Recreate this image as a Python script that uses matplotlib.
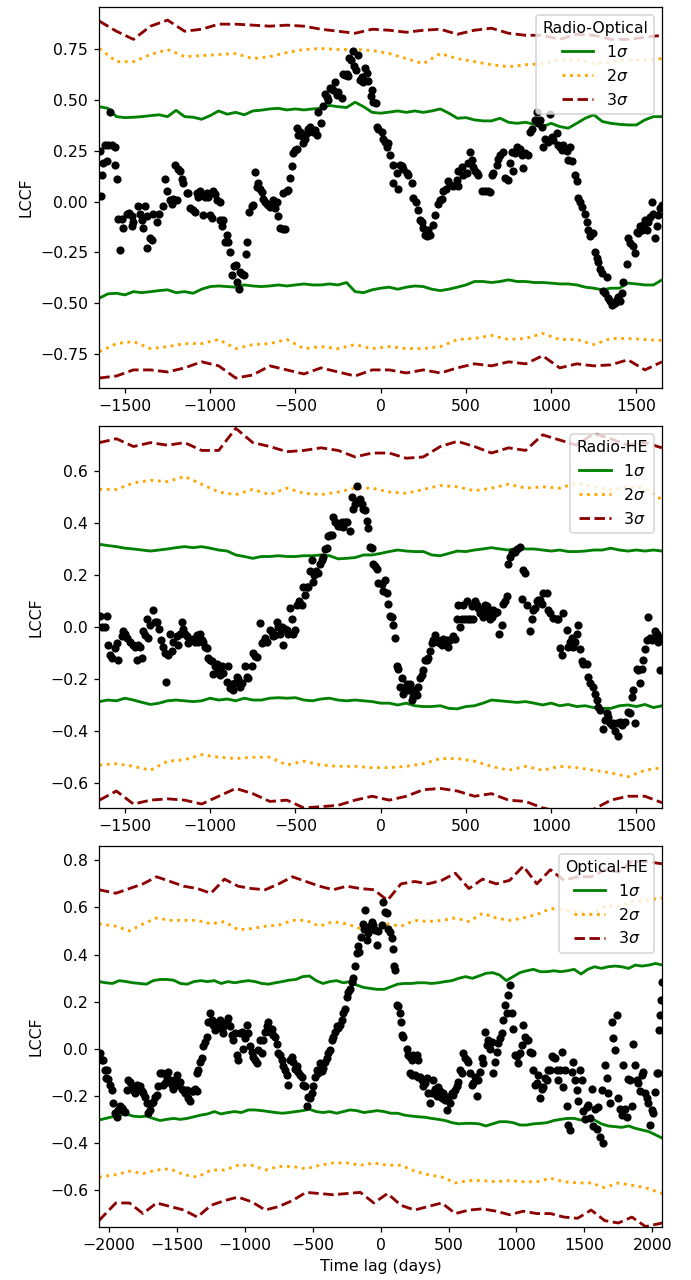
import numpy as np
import matplotlib
matplotlib.use("Agg")
import matplotlib.pyplot as plt

# lag grids for the significance curves
fine_lag_short = list(range(-1650, 1651, 50))
fine_lag_long = list(range(-2075, 2076, 50))
sig_lag_short = list(range(-1650, 1651, 100))
sig_lag_long = [-2075] + list(range(-1950, 1951, 100)) + [2075]

# ---------------- Radio-Optical ----------------
ro_points = [
    (-1645, 0.25), (-1640, 0.03), (-1637, 0.13), (-1627, 0.19), (-1617, 0.28), (-1607, 0.20),
    (-1598, 0.28), (-1588, 0.44), (-1578, 0.28), (-1559, 0.27), (-1559, 0.18), (-1549, 0.11),
    (-1539, -0.085), (-1529, -0.24), (-1519, -0.085), (-1510, -0.13), (-1490, -0.06), (-1474, -0.055),
    (-1461, -0.07), (-1461, -0.12), (-1451, -0.10), (-1422, -0.02), (-1412, -0.06), (-1402, -0.09),
    (-1392, -0.13), (-1383, -0.02), (-1373, -0.23), (-1373, -0.07), (-1353, -0.18), (-1343, -0.19),
    (-1334, -0.06), (-1314, -0.10), (-1298, -0.06), (-1275, -0.02), (-1265, 0.11), (-1256, 0.05),
    (-1236, 0.01), (-1226, -0.01), (-1216, 0.015), (-1207, 0.18), (-1197, 0.01), (-1187, 0.16),
    (-1177, 0.15), (-1168, 0.11), (-1158, 0.09), (-1138, 0.04), (-1128, 0.04), (-1119, -0.03),
    (-1103, -0.04), (-1089, -0.05), (-1080, 0.04), (-1070, 0.025), (-1060, 0.05), (-1040, -0.065),
    (-1031, 0.025), (-1021, 0.04), (-1011, 0.025), (-1001, -0.065), (-992, -0.08), (-982, 0.05),
    (-972, 0.035), (-962, 0.01), (-943, 0.0), (-943, -0.09), (-933, -0.12), (-923, -0.09),
    (-913, -0.20), (-904, -0.165), (-894, -0.20), (-884, -0.25), (-870, -0.36), (-861, -0.32),
    (-849, -0.315), (-841, -0.395), (-829, -0.43), (-825, -0.345), (-816, -0.355), (-802, -0.36),
    (-790, -0.26), (-782, -0.20), (-771, -0.05), (-757, -0.02), (-747, -0.015), (-737, 0.145),
    (-728, 0.07), (-718, 0.09), (-708, 0.06), (-698, 0.045), (-689, 0.015), (-679, 0.0),
    (-669, -0.01), (-659, -0.015), (-650, -0.025), (-640, -0.01), (-630, 0.01), (-620, -0.03),
    (-610, 0.0), (-601, -0.07), (-591, -0.13), (-575, -0.135), (-571, 0.04), (-561, -0.135),
    (-552, 0.05), (-542, 0.055), (-532, 0.115), (-522, 0.175), (-513, 0.24), (-503, 0.255),
    (-493, 0.26), (-493, 0.365), (-483, 0.33), (-473, 0.345), (-464, 0.325), (-454, 0.29),
    (-444, 0.31), (-434, 0.34), (-425, 0.36), (-415, 0.37), (-405, 0.35), (-395, 0.345),
    (-386, 0.355), (-376, 0.33), (-366, 0.44), (-352, 0.39), (-341, 0.47), (-327, 0.53),
    (-317, 0.515), (-307, 0.50), (-298, 0.56), (-288, 0.555), (-278, 0.55), (-268, 0.59),
    (-259, 0.525), (-249, 0.54), (-229, 0.51), (-219, 0.63), (-210, 0.625), (-200, 0.63),
    (-190, 0.62), (-184, 0.71), (-176, 0.70), (-165, 0.745), (-157, 0.67), (-145, 0.65),
    (-131, 0.725), (-122, 0.60), (-112, 0.615), (-102, 0.59), (-92, 0.66), (-83, 0.635),
    (-73, 0.595), (-59, 0.52), (-53, 0.55), (-43, 0.49), (-28, 0.485), (-24, 0.37), (-14, 0.36),
    (6, 0.345), (16, 0.31), (25, 0.295), (35, 0.27), (45, 0.29), (55, 0.23), (70, 0.18),
    (74, 0.09), (94, 0.14), (104, 0.06), (113, 0.18), (123, 0.175), (133, 0.16), (152, 0.14),
    (162, 0.13), (182, 0.09), (192, 0.02), (207, 0.0), (221, -0.04), (231, -0.09), (240, -0.10),
    (250, -0.13), (260, -0.165), (270, -0.17), (280, -0.14), (289, -0.165), (309, -0.115),
    (319, -0.065), (338, -0.01), (348, 0.01), (358, 0.015), (368, 0.05), (383, 0.06),
    (397, 0.10), (407, 0.08), (426, 0.075), (446, 0.105), (456, 0.075), (456, 0.15),
    (475, 0.17), (485, 0.13), (504, 0.14), (514, 0.19), (524, 0.245), (534, 0.205),
    (543, 0.17), (553, 0.15), (563, 0.14), (573, 0.13), (592, 0.05), (612, 0.05), (631, 0.05),
    (641, 0.045), (651, 0.13), (661, 0.14), (680, 0.18), (690, 0.21), (700, 0.23), (719, 0.245),
    (729, 0.115), (749, 0.105), (758, 0.19), (768, 0.245), (778, 0.15), (788, 0.24),
    (798, 0.27), (817, 0.26), (827, 0.23), (837, 0.165), (846, 0.24), (866, 0.23),
    (876, 0.345), (886, 0.36), (905, 0.40), (915, 0.44), (925, 0.39), (934, 0.40),
    (944, 0.37), (954, 0.27), (964, 0.31), (983, 0.295), (993, 0.43), (1003, 0.32),
    (1013, 0.305), (1032, 0.34), (1042, 0.28), (1052, 0.27), (1062, 0.255), (1071, 0.28),
    (1091, 0.25), (1101, 0.205), (1110, 0.27), (1120, 0.20), (1140, 0.13), (1150, 0.10),
    (1159, 0.02), (1169, 0.0), (1179, -0.025), (1198, -0.06), (1208, -0.10), (1218, -0.14),
    (1228, -0.17), (1247, -0.155), (1257, -0.25), (1267, -0.28), (1277, -0.30), (1286, -0.33),
    (1296, -0.35), (1306, -0.44), (1316, -0.45), (1326, -0.37), (1335, -0.475), (1345, -0.49),
    (1355, -0.51), (1365, -0.505), (1374, -0.50), (1384, -0.485), (1394, -0.47), (1404, -0.49),
    (1413, -0.45), (1423, -0.395), (1443, -0.31), (1453, -0.18), (1462, -0.205), (1482, -0.22),
    (1492, -0.255), (1501, -0.15), (1511, -0.155), (1521, -0.12), (1531, -0.14), (1541, -0.115),
    (1550, -0.09), (1560, -0.14), (1570, -0.10), (1580, -0.075), (1589, 0.0), (1599, -0.06),
    (1609, -0.18), (1619, -0.12), (1628, -0.065), (1638, -0.03), (1648, -0.015),
]
ro_1s_hi = [0.468, 0.46, 0.419, 0.414, 0.416, 0.419, 0.424, 0.428, 0.419, 0.45, 0.419, 0.416, 0.406, 0.424,
            0.447, 0.431, 0.44, 0.428, 0.447, 0.451, 0.457, 0.46, 0.452, 0.457, 0.452, 0.457, 0.46, 0.474,
            0.468, 0.464, 0.49, 0.468, 0.44,
            0.436, 0.441, 0.447, 0.44, 0.447, 0.44, 0.447, 0.457, 0.436, 0.411, 0.414, 0.403, 0.398, 0.398,
            0.411, 0.391, 0.386, 0.391, 0.381, 0.37, 0.386, 0.37, 0.362, 0.386, 0.411, 0.428, 0.395, 0.386,
            0.381, 0.378, 0.378, 0.403, 0.419, 0.419]
ro_1s_lo = [-0.476, -0.455, -0.452, -0.46, -0.444, -0.449, -0.444, -0.439, -0.435, -0.449, -0.444, -0.452,
            -0.432, -0.419, -0.416, -0.419, -0.422, -0.411, -0.416, -0.419, -0.416, -0.411, -0.416, -0.411,
            -0.406, -0.411, -0.411, -0.406, -0.411, -0.399, -0.444, -0.449, -0.435,
            -0.427, -0.422, -0.432, -0.422, -0.416, -0.419, -0.432, -0.439, -0.432, -0.422, -0.411, -0.394,
            -0.394, -0.399, -0.394, -0.386, -0.394, -0.394, -0.399, -0.399, -0.402, -0.406, -0.406, -0.411,
            -0.422, -0.427, -0.435, -0.427, -0.427, -0.402, -0.406, -0.411, -0.411, -0.386]
ro_2s_hi = [0.755, 0.69, 0.69, 0.725, 0.75, 0.715, 0.72, 0.725, 0.73, 0.705, 0.715, 0.735, 0.75, 0.755, 0.75, 0.75,
            0.745, 0.73, 0.705, 0.68, 0.73, 0.705, 0.69, 0.675, 0.665, 0.675, 0.68, 0.70, 0.70, 0.68, 0.69, 0.70,
            0.70, 0.705]
ro_2s_lo = [-0.74, -0.70, -0.69, -0.725, -0.715, -0.70, -0.70, -0.68, -0.725, -0.705, -0.70, -0.68, -0.725, -0.715,
            -0.725, -0.705, -0.725, -0.715, -0.725, -0.725, -0.715, -0.68, -0.675, -0.66, -0.68, -0.675, -0.65, -0.68,
            -0.68, -0.705, -0.675, -0.675, -0.68, -0.685]
ro_3s_hi = [0.89, 0.84, 0.80, 0.865, 0.895, 0.84, 0.85, 0.875, 0.875, 0.87, 0.865, 0.87, 0.865, 0.85, 0.84, 0.83,
            0.85, 0.845, 0.835, 0.845, 0.85, 0.825, 0.845, 0.855, 0.83, 0.82, 0.82, 0.80, 0.825, 0.82, 0.80, 0.80,
            0.81, 0.82]
ro_3s_lo = [-0.87, -0.86, -0.83, -0.83, -0.84, -0.82, -0.79, -0.81, -0.87, -0.855, -0.81, -0.83, -0.85, -0.82, -0.84,
            -0.86, -0.83, -0.83, -0.845, -0.83, -0.845, -0.82, -0.80, -0.81, -0.79, -0.80, -0.76, -0.82, -0.80, -0.81,
            -0.805, -0.78, -0.83, -0.79]

# ---------------- Radio-HE ----------------
rh_points = [
    (-1645, 0.045), (-1637, 0.0), (-1617, 0.0), (-1607, 0.045), (-1598, -0.07), (-1588, -0.105),
    (-1578, -0.12), (-1559, -0.08), (-1549, -0.06), (-1539, -0.125), (-1519, -0.035), (-1510, -0.015),
    (-1500, -0.025), (-1490, -0.04), (-1471, -0.055), (-1451, -0.07), (-1441, -0.075), (-1431, -0.125),
    (-1422, -0.07), (-1412, -0.075), (-1402, -0.12), (-1392, -0.015), (-1383, -0.03), (-1373, 0.03),
    (-1363, -0.04), (-1353, 0.01), (-1334, 0.065), (-1324, 0.02), (-1314, 0.02), (-1298, -0.005),
    (-1291, -0.05), (-1275, -0.075), (-1265, -0.10), (-1259, -0.21), (-1246, -0.105), (-1236, -0.025),
    (-1226, -0.09), (-1216, -0.055), (-1197, -0.035), (-1187, -0.07), (-1177, -0.025), (-1168, 0.02),
    (-1158, -0.005), (-1148, -0.025), (-1138, -0.035), (-1128, -0.06), (-1119, -0.05), (-1103, -0.045),
    (-1089, -0.055), (-1080, -0.03), (-1070, -0.055), (-1060, -0.025), (-1050, -0.05), (-1040, -0.055),
    (-1031, -0.075), (-1021, -0.08), (-1011, -0.12), (-1001, -0.125), (-992, -0.13), (-982, -0.18),
    (-972, -0.15), (-962, -0.14), (-953, -0.165), (-943, -0.185), (-933, -0.15), (-923, -0.175),
    (-904, -0.21), (-894, -0.15), (-884, -0.235), (-874, -0.22), (-865, -0.24), (-855, -0.215),
    (-845, -0.19), (-835, -0.20), (-825, -0.23), (-816, -0.215), (-796, -0.15), (-786, -0.19),
    (-777, -0.195), (-757, -0.15), (-747, -0.10), (-737, -0.11), (-728, -0.115), (-708, 0.015),
    (-698, -0.06), (-689, -0.055), (-679, -0.04), (-669, -0.055), (-650, -0.01), (-640, -0.02),
    (-630, -0.035), (-620, -0.03), (-610, 0.02), (-601, 0.0), (-591, -0.025), (-581, 0.0),
    (-571, -0.07), (-561, -0.005), (-552, -0.01), (-542, -0.025), (-532, 0.075), (-522, 0.03),
    (-513, -0.025), (-503, -0.01), (-493, 0.085), (-477, 0.10), (-464, 0.085), (-454, 0.155),
    (-444, 0.125), (-434, 0.155), (-425, 0.155), (-415, 0.215), (-405, 0.26), (-399, 0.175),
    (-391, 0.20), (-380, 0.215), (-366, 0.21), (-356, 0.245), (-346, 0.26), (-337, 0.27),
    (-327, 0.30), (-317, 0.305), (-307, 0.35), (-298, 0.355), (-288, 0.355), (-278, 0.425),
    (-268, 0.405), (-259, 0.40), (-249, 0.39), (-239, 0.39), (-229, 0.405), (-219, 0.385),
    (-210, 0.405), (-200, 0.405), (-180, 0.37), (-171, 0.50), (-161, 0.455), (-151, 0.475),
    (-141, 0.545), (-131, 0.485), (-122, 0.495), (-112, 0.475), (-102, 0.455), (-92, 0.45),
    (-83, 0.41), (-73, 0.38), (-63, 0.31), (-53, 0.305), (-43, 0.245), (-34, 0.235),
    (-24, 0.225), (-14, 0.17),
    (6, 0.165), (16, 0.14), (25, 0.18), (35, 0.13), (45, 0.09), (55, 0.045), (65, 0.04),
    (74, 0.01), (84, -0.04), (94, -0.15), (104, -0.16), (113, -0.23), (123, -0.195), (133, -0.255),
    (143, -0.235), (152, -0.22), (162, -0.24), (172, -0.22), (182, -0.28), (192, -0.265),
    (201, -0.24), (211, -0.26), (221, -0.23), (231, -0.195), (240, -0.185), (250, -0.165),
    (260, -0.125), (270, -0.125), (280, -0.12), (289, -0.09), (299, -0.06), (309, -0.05),
    (319, -0.03), (328, -0.05), (338, -0.055), (348, -0.06), (358, -0.07), (368, -0.045),
    (387, -0.05), (397, -0.075), (407, -0.05), (426, -0.035), (436, -0.045), (446, 0.03),
    (456, 0.085), (465, 0.0), (475, 0.03), (485, 0.085), (495, 0.03), (504, 0.10), (514, 0.03),
    (524, 0.03), (534, 0.08), (543, 0.03), (553, 0.10), (563, 0.085), (573, 0.075), (583, 0.055),
    (592, 0.065), (602, 0.04), (612, 0.085), (622, 0.08), (631, 0.055), (641, 0.03), (651, 0.04),
    (661, 0.065), (671, 0.055), (680, 0.06), (696, -0.025), (710, 0.01), (719, 0.09), (729, 0.10),
    (739, 0.12), (749, 0.245), (758, 0.27), (768, 0.285), (778, 0.29), (788, 0.29), (798, 0.30),
    (817, 0.31), (827, 0.11), (837, 0.22), (846, 0.21), (856, 0.085), (876, -0.015), (886, 0.03),
    (895, 0.065), (905, 0.075), (915, 0.10), (925, 0.105), (934, 0.105), (944, 0.09), (954, 0.13),
    (974, 0.13), (983, 0.065), (993, 0.055), (1013, 0.035), (1032, 0.03), (1042, 0.03),
    (1052, -0.08), (1062, -0.105), (1071, 0.055), (1091, -0.01), (1101, -0.075), (1110, -0.055),
    (1120, -0.04), (1130, -0.075), (1140, -0.055), (1150, -0.025), (1159, 0.01), (1169, -0.085),
    (1179, -0.13), (1189, -0.14), (1208, -0.14), (1218, -0.19), (1228, -0.215), (1247, -0.23),
    (1257, -0.255), (1267, -0.28), (1277, -0.305), (1286, -0.32), (1306, -0.39), (1316, -0.355),
    (1326, -0.33), (1335, -0.345), (1345, -0.37), (1355, -0.375), (1365, -0.37), (1374, -0.40),
    (1384, -0.37), (1394, -0.42), (1404, -0.365), (1413, -0.375), (1423, -0.37), (1433, -0.365),
    (1453, -0.325), (1462, -0.33), (1472, -0.27), (1482, -0.24), (1492, -0.37), (1501, -0.16),
    (1511, -0.165), (1521, -0.215), (1531, -0.16), (1541, -0.125), (1550, -0.085), (1560, -0.05),
    (1570, 0.04), (1580, -0.04), (1589, -0.05), (1599, -0.04), (1609, -0.015), (1619, -0.025),
    (1628, -0.055), (1638, -0.165), (1648, -0.04),
]
rh_1s_hi = [0.319, 0.314, 0.31, 0.304, 0.301, 0.297, 0.293, 0.297, 0.301, 0.306, 0.31, 0.306, 0.31, 0.304,
            0.297, 0.293, 0.278, 0.272, 0.265, 0.272, 0.272, 0.275, 0.272, 0.272, 0.275, 0.275, 0.278, 0.275,
            0.263, 0.265, 0.268, 0.278, 0.278,
            0.284, 0.291, 0.297, 0.293, 0.291, 0.291, 0.278, 0.275, 0.284, 0.293, 0.291, 0.297, 0.301, 0.306,
            0.301, 0.297, 0.304, 0.301, 0.301, 0.297, 0.293, 0.297, 0.291, 0.291, 0.293, 0.297, 0.297, 0.304,
            0.297, 0.293, 0.297, 0.293, 0.297, 0.293]
rh_1s_lo = [-0.286, -0.28, -0.283, -0.273, -0.28, -0.289, -0.297, -0.292, -0.283, -0.28, -0.283, -0.286,
            -0.283, -0.273, -0.28, -0.276, -0.283, -0.273, -0.28, -0.28, -0.273, -0.271, -0.273, -0.271,
            -0.28, -0.283, -0.276, -0.273, -0.28, -0.283, -0.28, -0.283, -0.286,
            -0.292, -0.292, -0.299, -0.292, -0.302, -0.305, -0.305, -0.302, -0.312, -0.314, -0.305, -0.302,
            -0.292, -0.28, -0.283, -0.286, -0.289, -0.286, -0.292, -0.299, -0.292, -0.302, -0.297, -0.305,
            -0.302, -0.309, -0.312, -0.312, -0.302, -0.299, -0.305, -0.297, -0.309, -0.302]
rh_2s_hi = [0.53, 0.53, 0.555, 0.565, 0.56, 0.58, 0.55, 0.52, 0.51, 0.53, 0.51, 0.535, 0.515, 0.51, 0.52, 0.535, 0.535,
            0.52, 0.515, 0.53, 0.545, 0.54, 0.525, 0.535, 0.55, 0.535, 0.54, 0.535, 0.555, 0.54, 0.53, 0.54, 0.535,
            0.49]
rh_2s_lo = [-0.53, -0.525, -0.535, -0.55, -0.515, -0.51, -0.49, -0.50, -0.505, -0.50, -0.50, -0.53, -0.515, -0.53,
            -0.535, -0.535, -0.54, -0.54, -0.535, -0.525, -0.505, -0.505, -0.515, -0.535, -0.55, -0.535, -0.55,
            -0.535, -0.54, -0.55, -0.56, -0.575, -0.55, -0.54]
rh_3s_hi = [0.71, 0.725, 0.695, 0.71, 0.70, 0.71, 0.68, 0.68, 0.765, 0.71, 0.695, 0.675, 0.68, 0.69, 0.68, 0.655,
            0.67, 0.67, 0.65, 0.655, 0.695, 0.715, 0.695, 0.67, 0.69, 0.68, 0.74, 0.72, 0.70, 0.745, 0.725, 0.70,
            0.71, 0.69]
rh_3s_lo = [-0.665, -0.63, -0.68, -0.665, -0.66, -0.665, -0.68, -0.65, -0.62, -0.64, -0.67, -0.665, -0.695, -0.69,
            -0.685, -0.665, -0.65, -0.665, -0.65, -0.625, -0.62, -0.63, -0.65, -0.64, -0.665, -0.67, -0.695, -0.71,
            -0.71, -0.70, -0.665, -0.65, -0.65, -0.675]

# ---------------- Optical-HE ----------------
oh_points = [
    (-2066, -0.02), (-2054, -0.05), (-2042, -0.05), (-2029, -0.09), (-2022, -0.125), (-2012, -0.09),
    (-2005, -0.13), (-1993, -0.155), (-1980, -0.175), (-1968, -0.23), (-1956, -0.275), (-1944, -0.29),
    (-1931, -0.26), (-1919, -0.245), (-1907, -0.25), (-1895, -0.26), (-1882, -0.27), (-1870, -0.175),
    (-1858, -0.135), (-1845, -0.14), (-1833, -0.16), (-1821, -0.175), (-1809, -0.19), (-1796, -0.155),
    (-1784, -0.17), (-1772, -0.16), (-1760, -0.18), (-1747, -0.19), (-1735, -0.205), (-1723, -0.23),
    (-1710, -0.275), (-1698, -0.26), (-1686, -0.23), (-1674, -0.225), (-1661, -0.205), (-1649, -0.195),
    (-1637, -0.16), (-1625, -0.105), (-1612, -0.105), (-1600, -0.155), (-1588, -0.145), (-1575, -0.125),
    (-1563, -0.10), (-1551, -0.135), (-1539, -0.155), (-1526, -0.17), (-1514, -0.135), (-1502, -0.11),
    (-1490, -0.155), (-1477, -0.14), (-1465, -0.17), (-1453, -0.175), (-1441, -0.19), (-1428, -0.175),
    (-1416, -0.21), (-1404, -0.22), (-1391, -0.18), (-1379, -0.18), (-1367, -0.17), (-1355, -0.18),
    (-1350, -0.105), (-1342, -0.09), (-1330, -0.055), (-1318, -0.04), (-1306, 0.01), (-1293, 0.03),
    (-1281, 0.05), (-1269, 0.115), (-1256, 0.15), (-1244, 0.12), (-1232, 0.10), (-1220, 0.08),
    (-1207, 0.095), (-1195, 0.115), (-1183, 0.12), (-1171, 0.085), (-1158, 0.065), (-1146, 0.10),
    (-1134, 0.115), (-1122, 0.13), (-1109, 0.095), (-1097, 0.06), (-1085, 0.035), (-1072, 0.065),
    (-1060, -0.025), (-1048, -0.05), (-1036, 0.065), (-1023, 0.07), (-1011, 0.0), (-999, 0.045),
    (-987, 0.10), (-974, 0.065), (-962, 0.01), (-950, -0.015), (-937, -0.035), (-925, -0.05),
    (-913, -0.06), (-901, -0.005), (-888, 0.035), (-876, -0.02), (-864, 0.035), (-852, 0.07),
    (-839, 0.095), (-827, 0.115), (-815, 0.07), (-803, 0.085), (-790, 0.058), (-778, 0.05),
    (-766, 0.02), (-754, -0.02), (-741, -0.025), (-729, -0.05), (-717, -0.075), (-704, -0.09),
    (-692, -0.11), (-680, -0.155), (-668, -0.05), (-655, -0.035), (-643, -0.055), (-631, -0.085),
    (-618, -0.075), (-606, -0.10), (-594, -0.11), (-582, -0.12), (-569, -0.155), (-557, -0.16),
    (-545, -0.245), (-533, -0.205), (-520, -0.21), (-508, -0.19), (-496, -0.16), (-483, -0.12),
    (-471, -0.09), (-459, -0.105), (-447, -0.06), (-434, -0.095), (-422, -0.08), (-410, -0.055),
    (-398, -0.04), (-385, -0.02), (-373, -0.005), (-361, 0.035), (-348, 0.05), (-336, 0.07),
    (-324, 0.095), (-312, 0.09), (-299, 0.10), (-287, 0.12), (-275, 0.15), (-263, 0.17),
    (-250, 0.22), (-238, 0.24), (-226, 0.255), (-214, 0.285), (-201, 0.30), (-189, 0.35),
    (-177, 0.405), (-164, 0.435), (-157, 0.41), (-145, 0.475), (-132, 0.53), (-123, 0.51),
    (-115, 0.59), (-103, 0.46), (-91, 0.49), (-79, 0.52), (-66, 0.54), (-54, 0.525),
    (-42, 0.505), (-29, 0.44), (-17, 0.50),
    (7, 0.525), (20, 0.625), (32, 0.58), (44, 0.575), (56, 0.51), (69, 0.495), (81, 0.47),
    (88, 0.425), (98, 0.35), (105, 0.335), (118, 0.185), (130, 0.18), (142, 0.15), (150, 0.115),
    (154, 0.06), (167, 0.05), (191, 0.0), (204, -0.025), (216, -0.035), (216, -0.105), (228, -0.05),
    (228, -0.11), (240, -0.025), (253, -0.035), (253, -0.11), (265, -0.027), (277, -0.05),
    (277, -0.12), (289, -0.12), (302, -0.135), (314, -0.16), (326, -0.147), (339, -0.125),
    (351, -0.19), (363, -0.23), (375, -0.19), (388, -0.135), (400, -0.17), (412, -0.20),
    (424, -0.162), (437, -0.18), (449, -0.21), (461, -0.19), (474, -0.218), (486, -0.26),
    (498, -0.205), (510, -0.232), (523, -0.19), (535, -0.197), (547, -0.175), (559, -0.16),
    (572, -0.14), (584, -0.09), (596, -0.105), (608, -0.02), (621, -0.04), (633, -0.048),
    (645, -0.055), (658, -0.105), (670, -0.155), (682, -0.147), (694, -0.12), (707, -0.20),
    (719, -0.133), (731, -0.10), (743, -0.04), (756, -0.062), (768, 0.07), (780, 0.015),
    (792, 0.035), (805, 0.0), (817, 0.03), (829, -0.105), (842, -0.055), (854, -0.012),
    (866, 0.023), (878, 0.045), (891, 0.065), (903, 0.12), (915, 0.185), (928, 0.15),
    (940, 0.23), (952, 0.27), (964, 0.15), (977, 0.085), (989, -0.025), (1001, -0.033),
    (1013, -0.06), (1026, -0.02), (1038, 0.015), (1045, 0.10), (1062, 0.05), (1075, 0.035),
    (1087, 0.035), (1099, -0.013), (1112, -0.02), (1124, -0.09), (1136, -0.155), (1148, -0.147),
    (1161, -0.112), (1173, -0.21), (1185, -0.169), (1197, -0.162), (1210, -0.125), (1222, -0.133),
    (1234, -0.09), (1246, -0.09), (1259, -0.03), (1271, -0.035), (1283, -0.041), (1296, -0.09),
    (1308, -0.133), (1320, -0.09), (1332, -0.013), (1345, -0.161), (1357, -0.09), (1369, -0.245),
    (1381, -0.325), (1394, -0.345), (1406, -0.098), (1418, -0.055), (1430, -0.133), (1443, -0.176),
    (1455, -0.22), (1467, -0.09), (1480, -0.133), (1492, -0.265), (1504, -0.30), (1516, -0.247),
    (1529, -0.24), (1541, -0.296), (1553, -0.17), (1565, -0.33), (1578, -0.254), (1590, -0.34),
    (1602, -0.247), (1615, -0.375), (1627, -0.176), (1639, -0.40), (1651, -0.07), (1664, -0.125),
    (1676, -0.19), (1688, -0.23), (1701, 0.115), (1713, 0.044), (1725, -0.005), (1737, 0.145),
    (1750, -0.21), (1762, -0.254), (1774, -0.28), (1786, -0.07), (1799, -0.254), (1811, -0.29),
    (1823, -0.127), (1835, -0.133), (1848, -0.245), (1860, 0.02), (1872, -0.07), (1885, -0.133),
    (1897, -0.147), (1909, -0.18), (1921, -0.112), (1934, -0.098), (1946, -0.19), (1958, -0.211),
    (1970, -0.232), (1983, -0.325), (1995, -0.261), (2007, -0.275), (2020, -0.183), (2032, -0.105),
    (2044, -0.105), (2051, 0.08), (2056, 0.145), (2061, 0.205), (2068, 0.285),
]
oh_1s_hi = [0.285, 0.28, 0.277, 0.289, 0.285, 0.28, 0.277, 0.274, 0.289, 0.294, 0.294, 0.291, 0.277, 0.274,
            0.285, 0.289, 0.285, 0.289, 0.277, 0.285, 0.28, 0.285, 0.289, 0.285, 0.277, 0.274, 0.28, 0.285,
            0.291, 0.294, 0.306, 0.309, 0.289, 0.277, 0.285, 0.289, 0.28, 0.285, 0.27, 0.26, 0.256, 0.252,
            0.252, 0.263, 0.274, 0.277, 0.277, 0.28, 0.28, 0.277, 0.28, 0.285, 0.289, 0.299, 0.306, 0.299,
            0.309, 0.32, 0.323, 0.313, 0.289, 0.306, 0.323, 0.331, 0.337, 0.327, 0.327, 0.331, 0.327, 0.331,
            0.337, 0.317, 0.337, 0.348, 0.341, 0.348, 0.351, 0.348, 0.341, 0.355, 0.351, 0.355, 0.362, 0.355]
oh_1s_lo = [-0.303, -0.296, -0.289, -0.282, -0.277, -0.286, -0.289, -0.286, -0.296, -0.305,
            -0.3, -0.296, -0.3, -0.296, -0.289, -0.282, -0.277, -0.267, -0.277, -0.271,
            -0.267, -0.271, -0.26, -0.26, -0.263, -0.267, -0.271, -0.274, -0.271, -0.267,
            -0.263, -0.257, -0.267, -0.271, -0.267, -0.274, -0.267, -0.26, -0.263, -0.271,
            -0.267, -0.263,
            -0.267, -0.274, -0.274, -0.282, -0.286, -0.289, -0.291, -0.296, -0.3, -0.305,
            -0.314, -0.319, -0.317, -0.317, -0.319, -0.328, -0.319, -0.31, -0.31, -0.314,
            -0.324, -0.324, -0.319, -0.317, -0.314, -0.305, -0.3, -0.296, -0.296, -0.303,
            -0.296, -0.303, -0.319, -0.328, -0.331, -0.334, -0.328, -0.338, -0.345, -0.352,
            -0.366, -0.38]
oh_2s_hi = [0.53, 0.52, 0.50, 0.53, 0.555, 0.545, 0.545, 0.545, 0.53, 0.54, 0.505, 0.51, 0.52, 0.525, 0.545, 0.545,
            0.52, 0.54, 0.53, 0.51, 0.525,
            0.53, 0.52, 0.545, 0.54, 0.545, 0.555, 0.54, 0.575, 0.555, 0.545, 0.555, 0.57, 0.595, 0.59, 0.58, 0.575,
            0.605, 0.605, 0.625, 0.63, 0.64]
oh_2s_lo = [-0.545, -0.535, -0.52, -0.53, -0.515, -0.51, -0.535, -0.545, -0.515, -0.515, -0.495, -0.495, -0.515,
            -0.50, -0.50, -0.51, -0.495, -0.485, -0.485, -0.495, -0.485,
            -0.495, -0.495, -0.52, -0.535, -0.545, -0.57, -0.56, -0.56, -0.565, -0.56, -0.565, -0.565, -0.55,
            -0.565, -0.57, -0.57, -0.59, -0.57, -0.58, -0.59, -0.615]
oh_3s_hi = [0.675, 0.66, 0.68, 0.70, 0.73, 0.71, 0.69, 0.68, 0.66, 0.72, 0.69, 0.68, 0.675, 0.70, 0.73, 0.71, 0.69,
            0.675, 0.69, 0.68, 0.675,
            0.63, 0.70, 0.71, 0.70, 0.715, 0.745, 0.68, 0.72, 0.70, 0.715, 0.775, 0.70, 0.76, 0.715, 0.73, 0.73,
            0.76, 0.75, 0.795, 0.795, 0.785]
oh_3s_lo = [-0.73, -0.655, -0.655, -0.70, -0.655, -0.67, -0.685, -0.715, -0.665, -0.645, -0.63, -0.65, -0.685,
            -0.67, -0.645, -0.61, -0.615, -0.62, -0.615, -0.61, -0.655,
            -0.615, -0.665, -0.685, -0.67, -0.655, -0.70, -0.685, -0.68, -0.69, -0.705, -0.69, -0.70, -0.70,
            -0.715, -0.72, -0.685, -0.73, -0.74, -0.715, -0.755, -0.74]


def draw_panel(ax, title, points, lag_1s, sig1, lag_23, sig2, sig3, xlim, ylim, xticks, yticks):
    lag = np.array([p[0] for p in points])
    lccf = np.array([p[1] for p in points])
    h1, = ax.plot(lag_1s, sig1[0], color='green', ls='-', lw=1.8, label='1$\\sigma$')
    ax.plot(lag_1s, sig1[1], color='green', ls='-', lw=1.8)
    h2, = ax.plot(lag_23, sig2[0], color='orange', ls=':', lw=1.8, label='2$\\sigma$')
    ax.plot(lag_23, sig2[1], color='orange', ls=':', lw=1.8)
    h3, = ax.plot(lag_23, sig3[0], color='darkred', ls='--', lw=1.8, label='3$\\sigma$')
    ax.plot(lag_23, sig3[1], color='darkred', ls='--', lw=1.8)
    ax.plot(lag, lccf, 'o', color='k', ms=4.2, zorder=3)
    ax.set_xlim(*xlim)
    ax.set_ylim(*ylim)
    ax.set_xticks(xticks)
    ax.set_yticks(yticks)
    ax.set_ylabel('LCCF')
    ax.legend(handles=[h1, h2, h3], title=title, loc='upper right')


fig = plt.figure(figsize=(691 / 113, 1280 / 113), dpi=113)
ax1 = fig.add_axes([0.1433, 0.6969, 0.8152, 0.2977])
ax2 = fig.add_axes([0.1433, 0.3690, 0.8152, 0.2982])
ax3 = fig.add_axes([0.1433, 0.0416, 0.8152, 0.2977])

draw_panel(ax1, 'Radio-Optical', ro_points, fine_lag_short, (ro_1s_hi, ro_1s_lo), sig_lag_short,
           (ro_2s_hi, ro_2s_lo), (ro_3s_hi, ro_3s_lo),
           (-1652, 1652), (-0.919, 0.96), [-1500, -1000, -500, 0, 500, 1000, 1500],
           [-0.75, -0.5, -0.25, 0, 0.25, 0.5, 0.75])
draw_panel(ax2, 'Radio-HE', rh_points, fine_lag_short, (rh_1s_hi, rh_1s_lo), sig_lag_short,
           (rh_2s_hi, rh_2s_lo), (rh_3s_hi, rh_3s_lo),
           (-1652, 1652), (-0.694, 0.774), [-1500, -1000, -500, 0, 500, 1000, 1500],
           [-0.6, -0.4, -0.2, 0, 0.2, 0.4, 0.6])
draw_panel(ax3, 'Optical-HE', oh_points, fine_lag_long, (oh_1s_hi, oh_1s_lo), sig_lag_long,
           (oh_2s_hi, oh_2s_lo), (oh_3s_hi, oh_3s_lo),
           (-2074, 2074), (-0.756, 0.862), [-2000, -1500, -1000, -500, 0, 500, 1000, 1500, 2000],
           [-0.6, -0.4, -0.2, 0, 0.2, 0.4, 0.6, 0.8])
ax3.set_xlabel('Time lag (days)')

fig.savefig('out.png', dpi=113)
